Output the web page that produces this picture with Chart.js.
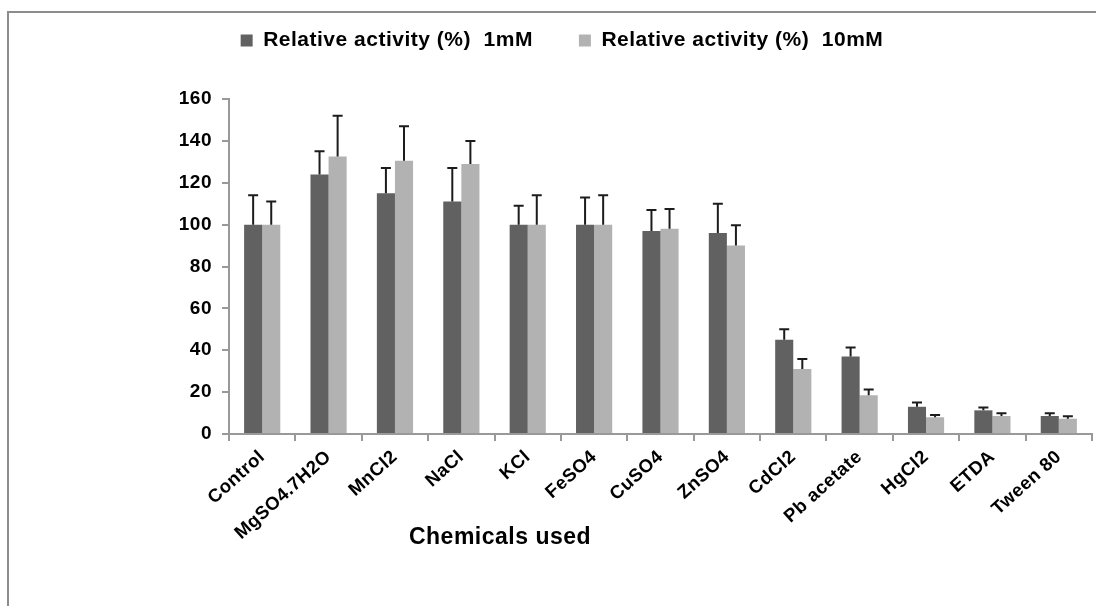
<!DOCTYPE html>
<html>
<head>
<meta charset="utf-8">
<script src="https://cdn.jsdelivr.net/npm/chart.js@4.4.0/dist/chart.umd.min.js"></script>
<style>
  html, body { margin: 0; padding: 0; background: #ffffff; }
  #wrap { position: relative; width: 1096px; height: 606px; }
</style>
</head>
<body>
<div id="wrap"><canvas id="chart" width="1096" height="606"></canvas></div>
<script>
// Relative enzyme activity in presence of metal ions / chemicals
const chemicals = ['Control', 'MgSO4.7H2O', 'MnCl2', 'NaCl', 'KCl', 'FeSO4', 'CuSO4',
                   'ZnSO4', 'CdCl2', 'Pb acetate', 'HgCl2', 'ETDA', 'Tween 80'];

const activity1mM  = [100, 124, 115, 111, 100, 100, 97, 96, 45, 37, 13, 11.3, 8.6];
const error1mM     = [14, 11, 12, 16, 9, 13, 10, 14, 5, 4.3, 2, 1.4, 1.3];

const activity10mM = [100, 132.5, 130.5, 129, 100, 100, 98, 90, 31, 18.5, 8, 8.6, 7.3];
const error10mM    = [11, 19.5, 16.5, 11, 14, 14, 9.5, 9.7, 4.8, 2.7, 1.1, 1.3, 1.2];

const seriesNames  = ['Relative activity (%)  1mM', 'Relative activity (%)  10mM'];
const yTickValues  = [0, 20, 40, 60, 80, 100, 120, 140, 160];
const xAxisTitle   = 'Chemicals used';

const FONT = '"Liberation Sans", Arial, sans-serif';
const SPACING = '0.5px';

// slightly widened lettering used across the figure
const spacingPlugin = {
  id: 'letterSpacing',
  beforeUpdate(chart) { chart.ctx.letterSpacing = SPACING; },
  beforeDraw(chart) { chart.ctx.letterSpacing = SPACING; }
};

// legend block reserves the space above the plot
const legendHeightPlugin = {
  id: 'legendHeight',
  afterInit(chart) {
    const lg = chart.legend;
    if (!lg) return;
    const fit = lg.fit.bind(lg);
    lg.fit = function () { fit(); this.height = 115; };
  }
};

// outer frame (left and top edges)
const framePlugin = {
  id: 'frame',
  beforeDraw(chart) {
    const ctx = chart.ctx;
    ctx.save();
    ctx.fillStyle = '#8c8c8c';
    ctx.fillRect(7, 11, chart.width - 7, 2);
    ctx.fillRect(7, 11, 2, chart.height - 11);
    ctx.restore();
  }
};

// upward error bars with caps
const errorBarPlugin = {
  id: 'errorBars',
  afterDatasetsDraw(chart) {
    const ctx = chart.ctx;
    const y = chart.scales.y;
    chart.data.datasets.forEach((ds, d) => {
      const meta = chart.getDatasetMeta(d);
      if (meta.hidden) return;
      meta.data.forEach((bar, i) => {
        const top = y.getPixelForValue(ds.data[i] + ds.errors[i]);
        ctx.save();
        ctx.strokeStyle = '#1c1c1c';
        ctx.lineWidth = 2;
        ctx.beginPath();
        ctx.moveTo(bar.x, bar.y);
        ctx.lineTo(bar.x, top);
        ctx.moveTo(bar.x - 5, top);
        ctx.lineTo(bar.x + 5, top);
        ctx.stroke();
        ctx.restore();
      });
    });
  }
};

// x-axis caption
const axisCaptionPlugin = {
  id: 'axisCaption',
  afterDraw(chart) {
    const ctx = chart.ctx;
    ctx.save();
    ctx.font = 'bold 23px ' + FONT;
    ctx.fillStyle = '#000';
    ctx.textAlign = 'center';
    ctx.textBaseline = 'middle';
    ctx.fillText(xAxisTitle, 500, 538);
    ctx.restore();
  }
};

new Chart(document.getElementById('chart'), {
  type: 'bar',
  data: {
    labels: chemicals,
    datasets: [
      { label: seriesNames[0], data: activity1mM, errors: error1mM,
        backgroundColor: '#616161', borderWidth: 0 },
      { label: seriesNames[1], data: activity10mM, errors: error10mM,
        backgroundColor: '#b2b2b2', borderWidth: 0 }
    ]
  },
  options: {
    responsive: false,
    devicePixelRatio: 1,
    animation: false,
    layout: { padding: { left: 32, right: 4, top: -16, bottom: 0 } },
    datasets: { bar: { barPercentage: 1, categoryPercentage: 0.545 } },
    plugins: {
      legend: {
        position: 'top',
        labels: {
          boxWidth: 12, boxHeight: 12, padding: 46,
          color: '#000',
          font: { family: FONT, size: 21, weight: 'bold' }
        }
      },
      tooltip: { enabled: false },
      title: { display: false }
    },
    scales: {
      x: {
        grid: { display: true, offset: true, drawOnChartArea: false,
                tickLength: 7, color: '#999', lineWidth: 2 },
        border: { display: true, color: '#999', width: 2 },
        ticks: {
          autoSkip: false, minRotation: 42, maxRotation: 42, padding: 5,
          color: '#000', font: { family: FONT, size: 18.5, weight: 'bold' }
        },
        afterFit(scale) { scale.height = 172; scale.paddingLeft = 0; scale.paddingRight = 0; }
      },
      y: {
        min: 0, max: 160,
        afterBuildTicks(scale) { scale.ticks = yTickValues.map(v => ({ value: v })); },
        grid: { display: true, drawOnChartArea: false, tickLength: 7, color: '#999', lineWidth: 2 },
        border: { display: true, color: '#999', width: 2 },
        ticks: {
          padding: 10, color: '#000',
          font: { family: FONT, size: 19, weight: 'bold' }
        },
        afterFit(scale) { scale.width = 197; scale.paddingTop = 0; scale.paddingBottom = 0; }
      }
    }
  },
  plugins: [spacingPlugin, legendHeightPlugin, framePlugin, errorBarPlugin, axisCaptionPlugin]
});
</script>
</body>
</html>
